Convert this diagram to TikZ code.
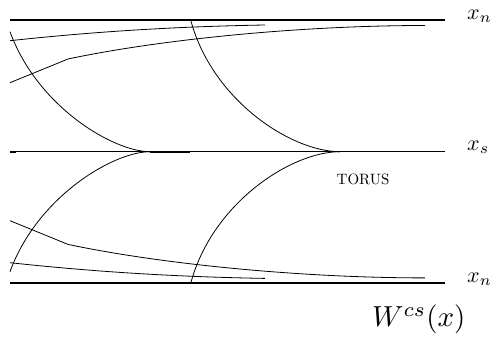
\documentclass[tikz,border=0pt]{standalone}
\usepackage{graphicx}
\usepackage{tikz}
\begin{document}
\begin{tikzpicture}[x=1pt,y=-1pt,
  leaf/.style={line width=1.4pt},
  bottomleaf/.style={line width=2pt},
  fib/.style={line width=0.8pt},
  lbl/.style={anchor=base west,inner sep=0pt}]
\useasboundingbox (0,0) rectangle (490,339);
% horizontal leaves
\coordinate (tl) at (10,20);    \coordinate (tr) at (445,20);
\coordinate (ml) at (10,151.7); \coordinate (mr) at (445,151.7);
\coordinate (bl) at (10,283.4); \coordinate (br) at (445,283.4);
\draw[leaf] (tl) -- (tr);
\draw[line width=1.3pt] (ml) -- (mr);
\draw[line width=2pt] (150,151.7) -- (190,151.7);
\draw[line width=2pt] (10,151.7) -- (16,151.7);
\draw[bottomleaf] (bl) -- (br);
% tangent points on the middle leaf
\coordinate (p1) at (150,151.7);
\coordinate (p2) at (340,151.7);
% upper arcs
\draw[fib] (10,31.7) .. controls (37.3,106.7) and (113.4,151.7) .. (p1);
\draw[fib] (190.7,20) .. controls (212,100) and (291,151.7) .. (p2);
% lower arcs
\draw[fib] (10,271.7) .. controls (37.3,196.7) and (113.4,151.7) .. (p1);
\draw[fib] (190.7,283.4) .. controls (212,203.4) and (291,151.7) .. (p2);
% upper curves
\draw[fib] (10,40.7) .. controls (100,31) and (180,26.5) .. (265,25);
\draw[fib] (10,82.7) -- (68,59) .. controls (160,39.5) and (300,25.5) .. (425,25.5);
% lower curves
\draw[fib] (10,262.7) .. controls (100,272.4) and (180,276.9) .. (265,278.4);
\draw[fib] (10,220.7) -- (68,244.4) .. controls (160,263.9) and (300,277.9) .. (425,277.9);
% labels
\node[lbl] (xn1) at (467,19.5) {\scalebox{2.2}{$x_n$}};
\node[lbl] (xs) at (467,150.5) {\scalebox{2.2}{$x_s$}};
\node[lbl] (xn2) at (467,282) {\scalebox{2.2}{$x_n$}};
\node[lbl] (torus) at (336.5,185) {\scalebox{1.5}{TORUS}};
\node[lbl] (wcs) at (372,326.7) {\scalebox{2.9}{$W^{cs}(x)$}};
\end{tikzpicture}
\end{document}
